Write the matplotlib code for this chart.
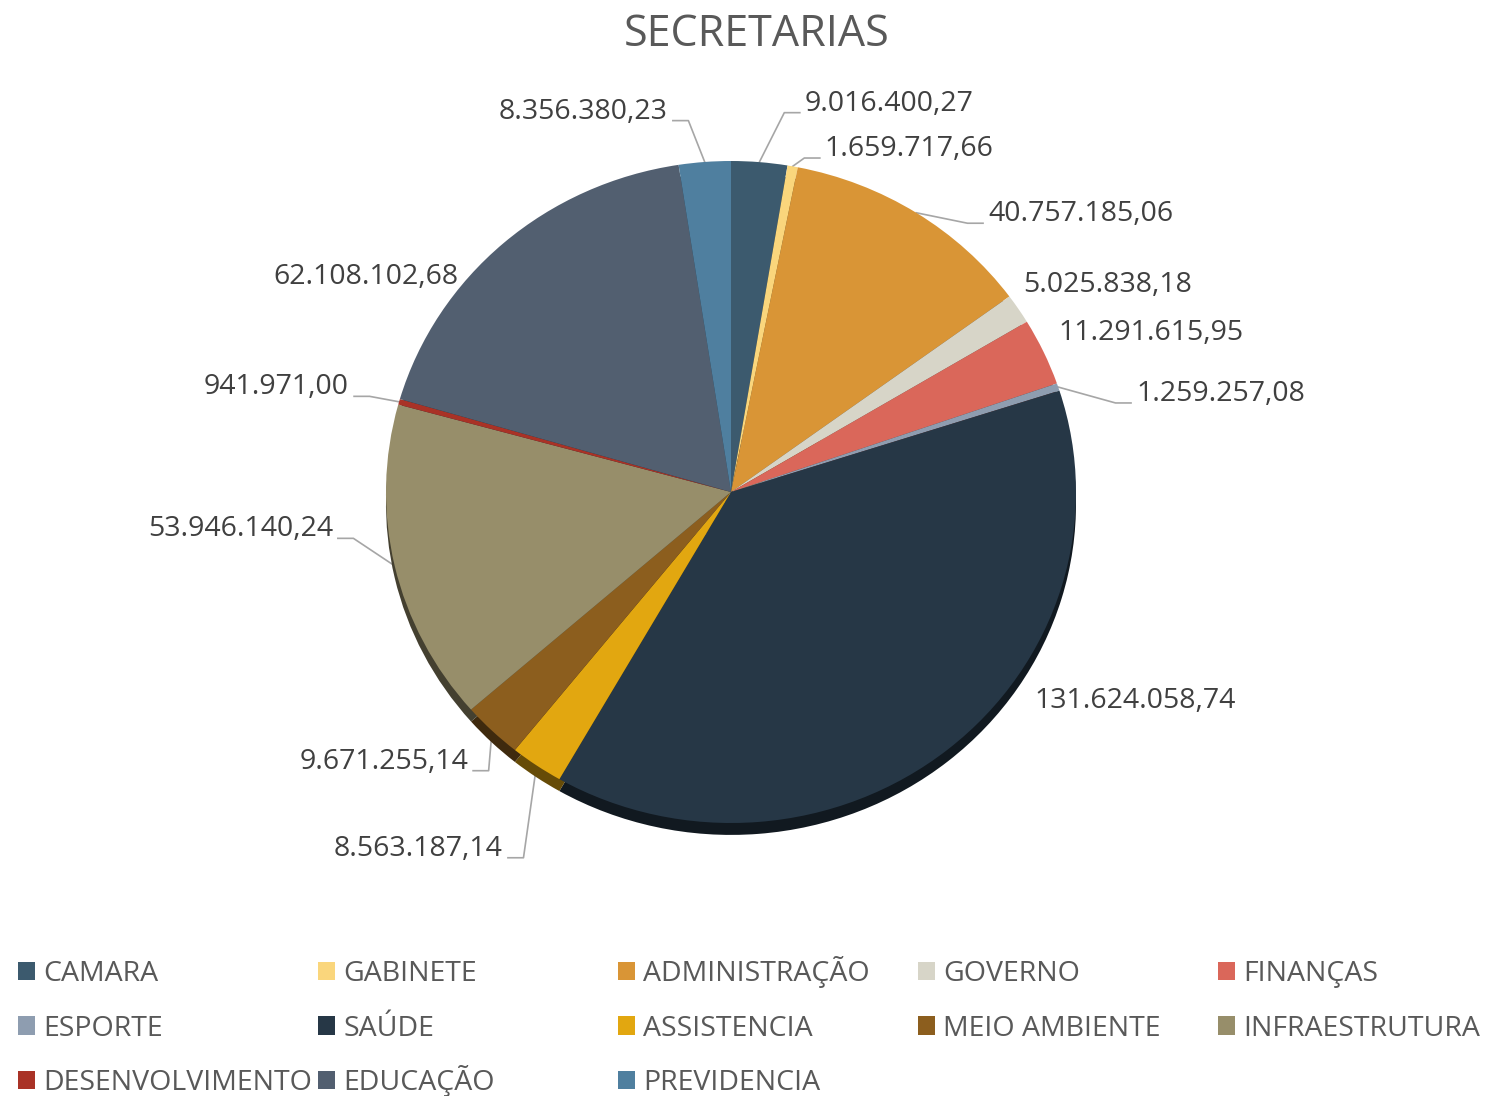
import numpy as np
import matplotlib
matplotlib.use("Agg")
import matplotlib.pyplot as plt
from matplotlib.patches import Patch
from matplotlib.colors import to_rgb

plt.rcParams['font.family'] = ['Open Sans', 'DejaVu Sans']

# data
categories = ["CAMARA", "GABINETE", "ADMINISTRAÇÃO", "GOVERNO", "FINANÇAS",
              "ESPORTE", "SAÚDE", "ASSISTENCIA", "MEIO AMBIENTE", "INFRAESTRUTURA",
              "DESENVOLVIMENTO", "EDUCAÇÃO", "PREVIDENCIA"]
values = [9016400.27, 1659717.66, 40757185.06, 5025838.18, 11291615.95,
          1259257.08, 131624058.74, 8563187.14, 9671255.14, 53946140.24,
          941971.00, 62108102.68, 8356380.23]
colors = ["#3C5A6E", "#FAD67C", "#D99536", "#D7D5C8", "#DA675A",
          "#8E9DB0", "#263746", "#E2A710", "#8C5E1E", "#978E6A",
          "#A93226", "#525F70", "#4F7F9F"]

def fmt_br(v):
    s = f"{v:,.2f}"
    return s.replace(",", "X").replace(".", ",").replace("X", ".")

# label layout (pie data coords): x, y, ha, leader line
label_pos = [(0.214, 1.173, "left", True), (0.272, 1.036, "left", True),
             (0.745, 0.839, "left", True), (0.846, 0.624, "left", False),
             (0.948, 0.481, "left", False), (1.174, 0.296, "left", True),
             (0.881, -0.630, "left", False), (-0.661, -1.078, "right", True),
             (-0.762, -0.815, "right", True), (-1.154, -0.113, "right", True),
             (-1.107, 0.316, "right", True), (-0.791, 0.651, "right", False),
             (-0.183, 1.149, "right", True)]

W, H = 1486, 1096
fig = plt.figure(figsize=(W / 100, H / 100), dpi=100)

cx, cy, rx, ry = 731, 492, 345, 331
ax = fig.add_axes([(cx - rx) / W, 1 - (cy + ry) / H, 2 * rx / W, 2 * ry / H])

# 3D side (darker pie shifted down)
dark = [tuple(c * 0.45 for c in to_rgb(col)) for col in colors]
ax.pie(values, colors=dark, startangle=90, counterclock=False, radius=1,
       center=(0, -0.036))
ax.pie(values, colors=colors, startangle=90, counterclock=False, radius=1)
ax.set_aspect('auto')
ax.set_xlim(-1, 1)
ax.set_ylim(-1, 1)
ax.axis('off')

# labels with leader lines
total = sum(values)
cum = np.cumsum([0] + values)
mids = np.radians((cum[:-1] + np.array(values) / 2) / total * 360)
dx_gap, dx_seg, dy_line = 0.0145, 0.045, 0.027
for v, th, (tx, ty, ha, lead) in zip(values, mids, label_pos):
    ax.text(tx, ty, fmt_br(v), ha=ha, va="center", fontsize=20.5,
            color="#404040", clip_on=False)
    if lead:
        sgn = -1 if ha == "left" else 1
        ex, ey = np.sin(th), np.cos(th)
        x_end = tx + sgn * dx_gap
        x_elb = x_end + sgn * dx_seg
        ly = ty - dy_line
        ax.plot([ex, x_elb, x_end], [ey, ly, ly], color="#A6A6A6", lw=1.2,
                clip_on=False, zorder=0)

fig.text(757 / W, 1 - 35 / H, "SECRETARIAS", ha="center", va="center",
         fontsize=31, color="#595959")

# legend, row-major in 5 columns (one small legend per entry keeps the grid even)
ncol = 5
for i, (name, col) in enumerate(zip(categories, colors)):
    r, c = divmod(i, ncol)
    fig.legend([Patch(facecolor=col, edgecolor="none")], [name],
               loc="lower left",
               bbox_to_anchor=((18 + 300 * c) / W, 1 - (988 + 54.5 * r) / H),
               frameon=False, fontsize=20.5, borderpad=0, borderaxespad=0,
               handlelength=0.6, handleheight=0.6, handletextpad=0.28,
               labelcolor="#595959")

fig.savefig("out.png", dpi=100)
